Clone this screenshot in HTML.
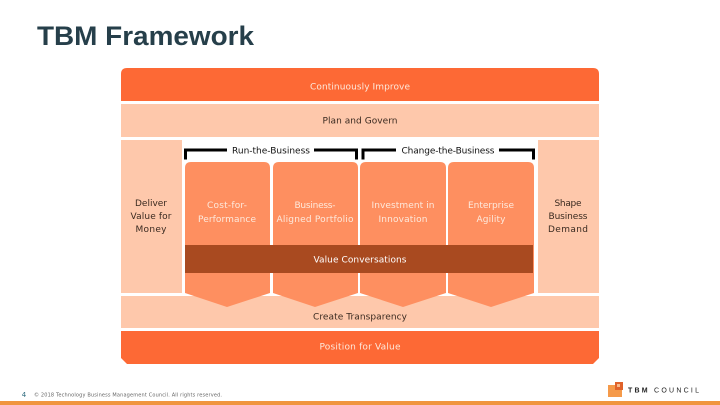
<!DOCTYPE html>
<html><head><meta charset="utf-8"><style>
html,body{margin:0;padding:0;background:#fff;width:720px;height:405px;overflow:hidden}
svg{display:block}
text{font-family:"DejaVu Sans","Liberation Sans",sans-serif;font-size:9px;text-anchor:middle}
.w{fill:#fde9dc}.d{fill:#3a2a20}
</style></head><body>
<svg width="720" height="405" viewBox="0 0 720 405" xmlns="http://www.w3.org/2000/svg">
<rect width="720" height="405" fill="#fff"/>
<text x="37" y="45" style="font-family:'Liberation Sans',sans-serif;font-size:27px;font-weight:bold;text-anchor:start" fill="#263f4a" textLength="217" lengthAdjust="spacingAndGlyphs">TBM Framework</text>
<path d="M127 68H593Q599 68 599 74V101H121V74Q121 68 127 68Z" fill="#fd6935"/>
<rect x="121" y="104" width="478" height="33" fill="#fec8ab"/>
<rect x="121" y="140" width="61" height="153" fill="#fec8ab"/>
<rect x="538" y="140" width="61" height="153" fill="#fec8ab"/>
<rect x="121" y="296" width="478" height="32" fill="#fec8ab"/>
<path d="M121 331H599V358L593 364H127L121 358Z" fill="#fd6935"/>
<g fill="#fe8f60">
<path d="M185 168Q185 162 191 162H264Q270 162 270 168V293L227 307L185 293Z"/>
<path d="M273 168Q273 162 279 162H352Q358 162 358 168V293L315 307L273 293Z"/>
<path d="M360 168Q360 162 366 162H440Q446 162 446 168V293L403 307L360 293Z"/>
<path d="M448 168Q448 162 454 162H528Q534 162 534 168V293L491 307L448 293Z"/>
</g>
<rect x="185" y="245" width="348" height="28" fill="#a94a20"/>
<g fill="none" stroke="#000" stroke-width="3">
<path d="M185.500 159.500V150H227M314 150H356.500V159.500"/>
<path d="M363 159.500V150H396M499 150H533.500V159.500"/>
</g>
<text x="360" y="89.500" class="w" textLength="100">Continuously Improve</text>
<text x="360" y="123.500" class="d" textLength="75">Plan and Govern</text>
<text x="271" y="153.500" fill="#111" textLength="78">Run-the-Business</text>
<text x="448" y="153.500" fill="#111" textLength="93">Change-the-Business</text>
<text x="151" y="206" class="d" textLength="32">Deliver</text>
<text x="151" y="219" class="d" textLength="41">Value for</text>
<text x="151" y="232" class="d" textLength="31">Money</text>
<text x="227" y="208" class="w" textLength="40">Cost-for-</text>
<text x="227" y="222" class="w" textLength="58">Performance</text>
<text x="315" y="208" class="w" textLength="41">Business-</text>
<text x="315" y="222" class="w" textLength="77">Aligned Portfolio</text>
<text x="403" y="208" class="w" textLength="63">Investment in</text>
<text x="403" y="222" class="w" textLength="49">Innovation</text>
<text x="491" y="208" class="w" textLength="46">Enterprise</text>
<text x="491" y="222" class="w" textLength="29">Agility</text>
<text x="568" y="206" class="d" textLength="27">Shape</text>
<text x="568" y="219" class="d" textLength="39">Business</text>
<text x="568" y="232" class="d" textLength="40">Demand</text>
<text x="360" y="262.500" fill="#fff" textLength="93">Value Conversations</text>
<text x="360" y="319.500" class="d" textLength="94">Create Transparency</text>
<text x="360" y="349.500" class="w" textLength="81">Position for Value</text>
<text x="24" y="397" style="font-size:7px" fill="#2d6a7d">4</text>
<text x="128" y="396.500" style="font-size:5px" fill="#666" textLength="188">© 2018 Technology Business Management Council. All rights reserved.</text>
<rect x="608" y="385" width="14" height="12" fill="#f59a4a"/>
<rect x="615" y="382" width="8" height="8" fill="#e0622a"/>
<rect x="617" y="384" width="3" height="3" fill="#f8b98a"/>
<text x="628" y="392.500" style="font-size:7px;text-anchor:start;font-family:'Liberation Sans',sans-serif" fill="#222" textLength="71"><tspan font-weight="bold">TBM</tspan> COUNCIL</text>
<rect x="0" y="401" width="720" height="4" fill="#f0953f"/>
</svg>
</body></html>
